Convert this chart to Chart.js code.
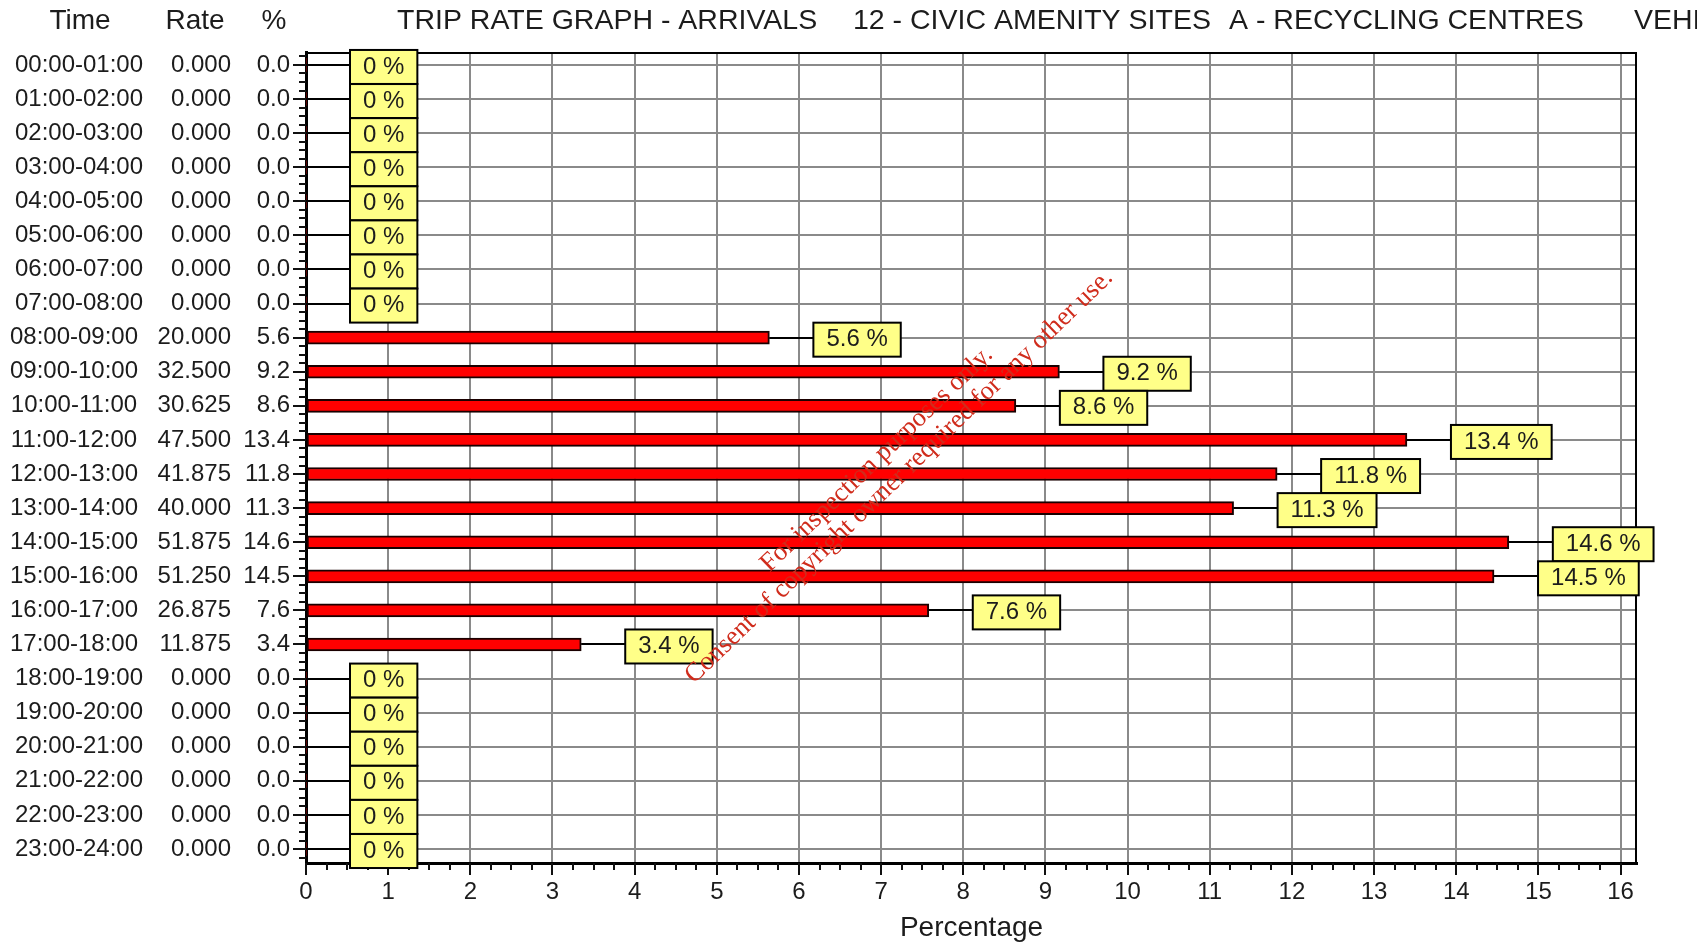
<!DOCTYPE html>
<html>
<head>
<meta charset="utf-8">
<script src="https://cdn.jsdelivr.net/npm/chart.js@4.4.1/dist/chart.umd.min.js"></script>
<style>
html,body{margin:0;padding:0;background:#fff;overflow:hidden}
#wrap{position:relative;width:1697px;height:945px}
</style>
</head>
<body>
<div id="wrap"><canvas id="c"></canvas></div>
<script>
// ---- data ----
const timeLabels = ['00:00-01:00','01:00-02:00','02:00-03:00','03:00-04:00','04:00-05:00','05:00-06:00',
  '06:00-07:00','07:00-08:00','08:00-09:00','09:00-10:00','10:00-11:00','11:00-12:00',
  '12:00-13:00','13:00-14:00','14:00-15:00','15:00-16:00','16:00-17:00','17:00-18:00',
  '18:00-19:00','19:00-20:00','20:00-21:00','21:00-22:00','22:00-23:00','23:00-24:00'];
const rateValues = [0,0,0,0,0,0,0,0,20.000,32.500,30.625,47.500,41.875,40.000,51.875,51.250,26.875,11.875,0,0,0,0,0,0];
const pctValues  = [0,0,0,0,0,0,0,0,5.64,9.17,8.64,13.40,11.82,11.29,14.64,14.46,7.58,3.35,0,0,0,0,0,0];
const xTickValues = [0,1,2,3,4,5,6,7,8,9,10,11,12,13,14,15,16];
const headerLabels = ['Time','Rate','%'];
const titleParts = ['TRIP RATE GRAPH - ARRIVALS','12 - CIVIC AMENITY SITES','A - RECYCLING CENTRES','VEHICLES'];
const axisTitle = 'Percentage';
const watermarkLines = ['For inspection purposes only.','Consent of copyright owner required for any other use.'];

const SANS = '"Liberation Sans", Arial, sans-serif';
const SERIF = '"Liberation Serif", "Times New Roman", serif';
const TXT = '#1c1c1c';

const overlay = {
  id: 'overlay',
  afterDatasetsDraw(chart) {
    const {ctx, chartArea: a} = chart;
    const xs = chart.scales.x, ys = chart.scales.y;
    ctx.save();
    // top & right frame
    ctx.strokeStyle = '#000'; ctx.lineWidth = 2;
    ctx.beginPath();
    ctx.moveTo(a.left, a.top + 1); ctx.lineTo(a.right - 1, a.top + 1); ctx.lineTo(a.right - 1, a.bottom);
    ctx.stroke();
    // x-axis tick marks (major + quarter minor)
    ctx.lineWidth = 2; ctx.strokeStyle = '#111';
    for (let q = 0; q <= xTickValues[xTickValues.length - 1] * 4; q++) {
      const px = Math.round(xs.getPixelForValue(q / 4));
      const len = q % 4 === 0 ? 12 : 7;
      ctx.beginPath(); ctx.moveTo(px, a.bottom); ctx.lineTo(px, a.bottom + len); ctx.stroke();
    }
    // y-axis tick marks
    for (let q = -1; q <= (timeLabels.length - 1) * 4 + 1; q++) {
      const py = Math.round(ys.getPixelForValue(q / 4));
      if (py < a.top + 2 || py > a.bottom - 2) continue;
      const len = q % 4 === 0 ? 13 : 7;
      ctx.beginPath(); ctx.moveTo(a.left - len, py); ctx.lineTo(a.left, py); ctx.stroke();
    }
    // connectors and label boxes
    ctx.font = '24px ' + SANS;
    ctx.textBaseline = 'middle';
    pctValues.forEach((v, i) => {
      const yc = ys.getPixelForValue(i);
      const xe = xs.getPixelForValue(v);
      const label = v === 0 ? '0 %' : v.toFixed(1) + ' %';
      const bx = xe + 44;
      ctx.strokeStyle = '#000'; ctx.lineWidth = 2;
      ctx.beginPath(); ctx.moveTo(xe, Math.round(yc)); ctx.lineTo(bx, Math.round(yc)); ctx.stroke();
      const w = ctx.measureText(label).width + 26;
      const top = yc - 15, h = 34;
      ctx.fillStyle = '#ffff88';
      ctx.fillRect(bx, top, w, h);
      ctx.strokeRect(bx, top, w, h);
      ctx.fillStyle = TXT; ctx.textAlign = 'center';
      ctx.fillText(label, bx + w / 2, yc + 2);
    });
    // left text columns
    ctx.fillStyle = TXT;
    timeLabels.forEach((t, i) => {
      const yc = ys.getPixelForValue(i);
      ctx.textAlign = 'center';
      ctx.fillText(t, rateValues[i] === 0 ? 79 : 74, yc);
      ctx.textAlign = 'right';
      ctx.fillText(rateValues[i].toFixed(3), 231, yc);
    });
    // header row
    ctx.font = '28px ' + SANS;
    ctx.textAlign = 'center';
    ctx.fillText(headerLabels[0], 80, 21);
    ctx.fillText(headerLabels[1], 195, 21);
    ctx.fillText(headerLabels[2], 274, 21);
    ctx.font = '28.5px ' + SANS;
    ctx.textAlign = 'left';
    const starts = [397, 853, 1229, 1634];
    titleParts.forEach((p, k) => ctx.fillText(p, starts[k], 21));
    ctx.restore();
  },
  afterDraw(chart) {
    const ctx = chart.ctx;
    ctx.save();
    ctx.translate(888, 468);
    ctx.rotate(-44 * Math.PI / 180);
    ctx.fillStyle = 'rgb(208,44,28)';
    ctx.font = '26.5px ' + SERIF;
    ctx.textAlign = 'center'; ctx.textBaseline = 'middle';
    ctx.fillText(watermarkLines[0], -2, -14);
    ctx.fillText(watermarkLines[1], 2, 14);
    ctx.restore();
  }
};

new Chart(document.getElementById('c'), {
  type: 'bar',
  data: {
    datasets: [{
      data: pctValues.map((v, i) => ({x: v, y: i})),
      backgroundColor: '#ff0000',
      borderColor: '#1a0000',
      borderWidth: c => (c.raw && c.raw.x ? 2 : 0),
      borderSkipped: false,
      barThickness: 13
    }]
  },
  options: {
    indexAxis: 'y',
    responsive: true,
    maintainAspectRatio: false,
    animation: false,
    devicePixelRatio: 1,
    layout: {padding: {top: 52, right: 60, left: 0, bottom: 0}},
    plugins: {legend: {display: false}, tooltip: {enabled: false}, title: {display: false}},
    scales: {
      x: {
        type: 'linear', position: 'bottom', min: 0, max: 16.2, offset: false,
        afterBuildTicks: s => { s.ticks = xTickValues.map(v => ({value: v})); },
        afterFit: s => { s.height = 82; },
        grid: {color: '#8a8a8a', lineWidth: 2, drawTicks: false, offset: false},
        border: {color: '#000', width: 3},
        ticks: {padding: 15, color: TXT, font: {family: SANS, size: 24}, maxRotation: 0, autoSkip: false},
        title: {display: true, text: axisTitle, color: TXT, font: {family: SANS, size: 28}, padding: {top: 0, bottom: 0}}
      },
      y: {
        type: 'linear', position: 'left', min: -0.38, max: 23.41, reverse: true, offset: false,
        afterBuildTicks: s => { s.ticks = timeLabels.map((_, i) => ({value: i})); },
        afterFit: s => { s.width = 306; },
        grid: {color: '#8a8a8a', lineWidth: 2, drawTicks: false, offset: false},
        border: {color: '#000', width: 3},
        ticks: {padding: 16, color: TXT, font: {family: SANS, size: 24}, autoSkip: false,
                callback: v => pctValues[v].toFixed(1)}
      }
    }
  },
  plugins: [overlay]
});
</script>
</body>
</html>
